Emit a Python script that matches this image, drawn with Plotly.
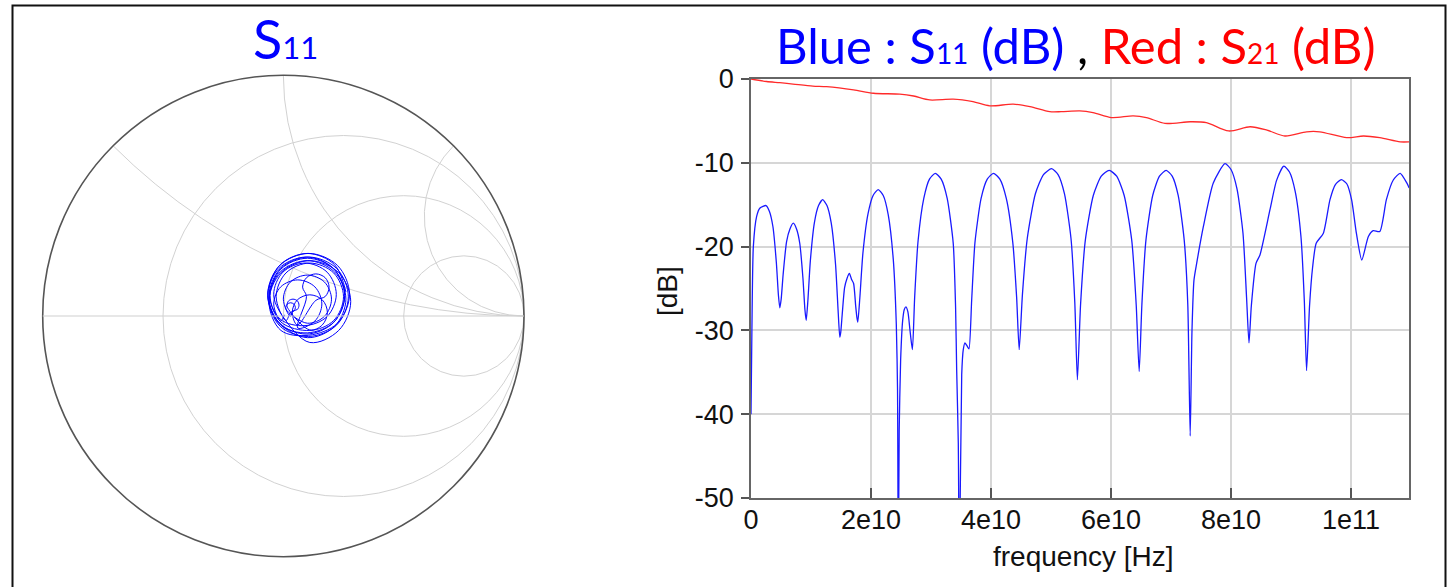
import numpy as np
import plotly.graph_objects as go

W, H = 1453, 587

# ---------------- data ----------------
# S11 magnitude (dB) vs frequency (GHz)
s11_freq_ghz = [0, 0.15, 0.39, 0.94, 1.5, 2.5,
                3.075, 3.65, 4.225, 4.57, 4.8,
                5.025, 5.36, 5.93, 6.49, 7.05,
                7.59, 8.125, 8.66, 8.985, 9.2,
                9.475, 9.89, 10.575, 11.26, 11.95,
                12.66, 13.375, 14.09, 14.515, 14.8,
                14.96, 15.2, 15.6, 16.0, 16.4,
                16.75, 17.1, 17.45, 17.66, 17.8,
                18.14, 18.65, 19.5, 20.35, 21.2,
                22.04, 22.875, 23.71, 24.215, 24.42, 24.55,
                24.7, 24.94, 25.28, 25.55, 25.83,
                26.15, 26.5, 26.9,
                27.28, 27.85, 28.8, 29.75, 30.7,
                31.7, 32.7, 33.7, 34.1, 34.28, 34.55, 34.72,
                35.12, 35.38, 35.67, 36.05, 36.33, 36.78,
                37.33, 38.35, 39.38, 40.4,
                41.48, 42.55, 43.63, 44.27, 44.7,
                45.24, 46.05, 47.4, 48.75, 50.1,
                51.18, 52.25, 53.33, 53.97, 54.4,
                54.93, 55.73, 57.05, 58.38, 59.7,
                60.95, 62.2, 63.45, 64.2, 64.7,
                65.15, 65.83, 66.95, 68.08, 69.2,
                70.2, 71.2, 72.2, 72.8, 73.2,
                73.5, 73.83, 74.28, 75.4, 77.05, 79.0,
                80.0, 81.0, 82.0, 82.6, 83.0,
                83.4, 84.17, 84.83, 86.5, 87.6, 88.8,
                89.75, 90.7, 91.65, 92.22, 92.6,
                93.1, 93.6, 94.2, 95.4, 96.5, 97.4, 98.4,
                99.3, 100.1, 100.9, 101.8,
                102.9, 103.7, 104.8, 105.9, 107.05, 108.2, 109.3, 109.7]
s11_db = [-40, -30, -20, -16.4, -15.4, -15.1,
          -15.8, -17.6, -21.9, -25.8, -27.3,
          -26.3, -23.3, -19.4, -17.9, -17.2,
          -17.9, -19.6, -23.8, -27.5, -28.8,
          -26.5, -21.7, -17.1, -15.1, -14.4,
          -15.1, -17.2, -22.1, -27.6, -30.8,
          -30.2, -28.1, -24.9, -23.8, -23.2,
          -23.9, -24.4, -27.1, -28.5, -29.0,
          -26.1, -20.8, -16.1, -13.9, -13.2,
          -13.9, -16.2, -21.5, -29.2, -37.0, -60.0,
          -42.0, -33.5, -28.8, -27.5, -27.2,
          -27.8, -30.0, -32.3,
          -26.0, -19.3, -14.25, -11.95, -11.25,
          -11.95, -14.25, -19.55, -27.25, -34.7, -43.4, -60.0,
          -35.3, -32.3, -31.5, -31.9, -32.2, -26.4,
          -19.5, -14.25, -11.95, -11.25,
          -11.95, -14.25, -19.5, -26.0, -32.3,
          -25.7, -19.0, -13.7, -11.4, -10.7,
          -11.4, -13.7, -19.0, -26.7, -35.9,
          -26.9, -19.2, -13.9, -11.6, -10.9,
          -11.6, -13.9, -19.2, -26.9, -34.9,
          -26.9, -19.2, -13.9, -11.6, -10.9,
          -11.6, -13.9, -19.2, -26.9, -42.6,
          -30.0, -24.0, -22.0, -17.6, -12.4, -10.1,
          -10.8, -13.1, -18.4, -26.1, -31.5,
          -27.0, -22.0, -21.0, -15.6, -12.1, -10.4,
          -11.1, -13.4, -18.7, -26.4, -34.8,
          -27.0, -22.5, -19.6, -18.4, -14.4, -12.6, -12.0,
          -12.5, -14.4, -18.4, -21.6,
          -18.8, -18.1, -18.2, -14.4, -12.05, -11.25, -12.4, -13.0]

# S21 magnitude (dB) vs frequency (GHz)
s21_freq_ghz = [0, 2.6, 4.8, 7.0, 10.3, 12.6, 17.1, 20.4, 24.8, 27.1, 29.8,
                33.7, 37.0, 39.8, 43.7, 46.5, 49.8, 51.7, 54.8, 57.0, 60.1,
                63.7, 65.9, 69.0, 73.2, 75.9, 79.6, 83.2, 86.0, 89.0, 92.6,
                94.8, 99.3, 102.1, 104.8, 108.2, 109.7]
s21_db = [0, -0.3, -0.44, -0.6, -0.84, -0.92, -1.3, -1.7, -1.8, -2.03, -2.5,
          -2.4, -2.7, -3.2, -3.0, -3.3, -3.9, -3.9, -3.8, -4.0, -4.6,
          -4.4, -4.6, -5.3, -5.1, -5.2, -6.2, -5.7, -6.1, -6.8, -6.3,
          -6.3, -7.0, -6.8, -7.0, -7.5, -7.5]

# S11 locus on the Smith chart (reflection coefficient, re / im)
gamma_re = [0.005,
            -0.011, -0.040, -0.011, 0.060, 0.131, 0.160, 0.131, 0.060,
            0.096, 0.080, 0.096, 0.135, 0.174, 0.190, 0.174, 0.135,
            0.058, 0.037, 0.058, 0.110, 0.162, 0.183, 0.162, 0.110,
            0.022, 0.015, 0.022, 0.040, 0.058, 0.065, 0.058, 0.040,
            0.029, 0.000, 0.029, 0.100, 0.171, 0.200, 0.171, 0.100,
            0.016, 0.010, 0.016, 0.030, 0.044, 0.050, 0.044, 0.030,
            0.011, -0.030, 0.011, 0.110, 0.209, 0.250, 0.209, 0.110,
            -0.010, -0.055, -0.010, 0.100, 0.210, 0.255, 0.210, 0.100,
            -0.012, -0.060, -0.012, 0.105, 0.222, 0.270, 0.222, 0.105,
            -0.013, -0.060, -0.013, 0.100, 0.213, 0.260, 0.213, 0.100,
            -0.018, -0.065, -0.018, 0.095, 0.208, 0.255, 0.208, 0.095,
            -0.015, -0.065, -0.015, 0.105, 0.225, 0.275, 0.225, 0.105,
            -0.010, -0.060, -0.010, 0.110, 0.230, 0.280, 0.230, 0.110,
            -0.002, -0.040, -0.002, 0.090, 0.182, 0.220, 0.182, 0.090,
            -0.013, -0.060, -0.013, 0.100, 0.213, 0.260]
gamma_im = [0.005,
            -0.021, 0.050, 0.121, 0.150, 0.121, 0.050, -0.021, -0.050,
            0.081, 0.120, 0.159, 0.175, 0.159, 0.120, 0.081, 0.065,
            -0.037, 0.015, 0.067, 0.088, 0.067, 0.015, -0.037, -0.058,
            0.027, 0.045, 0.063, 0.070, 0.063, 0.045, 0.027, 0.020,
            -0.001, 0.070, 0.141, 0.170, 0.141, 0.070, -0.001, -0.030,
            0.021, 0.035, 0.049, 0.055, 0.049, 0.035, 0.021, 0.015,
            -0.019, 0.080, 0.179, 0.220, 0.179, 0.080, -0.019, -0.060,
            -0.025, 0.085, 0.195, 0.240, 0.195, 0.085, -0.025, -0.070,
            -0.037, 0.080, 0.197, 0.245, 0.197, 0.080, -0.037, -0.085,
            -0.043, 0.070, 0.183, 0.230, 0.183, 0.070, -0.043, -0.090,
            -0.028, 0.085, 0.198, 0.245, 0.198, 0.085, -0.028, -0.075,
            -0.030, 0.090, 0.210, 0.260, 0.210, 0.090, -0.030, -0.080,
            -0.060, 0.060, 0.180, 0.230, 0.180, 0.060, -0.060, -0.110,
            -0.002, 0.090, 0.182, 0.220, 0.182, 0.090, -0.002, -0.040,
            -0.013, 0.100, 0.213, 0.260, 0.213, 0.100]

x_tickvals = [0, 2e10, 4e10, 6e10, 8e10, 1e11]
x_ticktext = ["0", "2e10", "4e10", "6e10", "8e10", "1e11"]
y_tickvals = [0, -10, -20, -30, -40, -50]
y_ticktext = ["0", "-10", "-20", "-30", "-40", "-50"]
smith_r_grid = [1 / 3, 1, 3]
smith_x_grid = [0.4142, 1, 2.4142]

# ---------------- helpers ----------------
def fx(p):
    return p / W


def fy(p):
    return 1 - p / H


s11_freq = np.array(s11_freq_ghz) * 1e9
s21_freq = np.array(s21_freq_ghz) * 1e9
g = np.array(gamma_re) + 1j * np.array(gamma_im)
z = (1 + g) / (1 - g)

SANS = "Liberation Sans, Arial, sans-serif"
XTICKFONT = dict(family=SANS, size=27, color="#111111")
YTICKFONT = dict(family=SANS, size=27, color="#111111")
TITLEFONT = "Lato, Calibri, Noto Sans, sans-serif"

fig = go.Figure()

fig.add_trace(go.Scattersmith(
    real=z.real, imag=z.imag, mode="lines",
    line=dict(color="#0000ff", width=1, shape="spline", smoothing=1),
    showlegend=False, hoverinfo="skip", subplot="smith"))

fig.add_trace(go.Scatter(
    x=s21_freq, y=s21_db, mode="lines",
    line=dict(color="#ff2a2a", width=1.3, shape="spline", smoothing=0.8),
    showlegend=False, xaxis="x", yaxis="y"))

fig.add_trace(go.Scatter(
    x=s11_freq, y=s11_db, mode="lines",
    line=dict(color="#1a1aff", width=1.3, shape="spline", smoothing=0.6),
    showlegend=False, xaxis="x", yaxis="y"))

fig.update_layout(
    width=W, height=H,
    margin=dict(l=0, r=0, t=0, b=0, autoexpand=False),
    paper_bgcolor="white", plot_bgcolor="white",
    showlegend=False,
    smith=dict(
        domain=dict(x=[fx(42.7), fx(524)], y=[fy(557), fy(75)]),
        bgcolor="white",
        realaxis=dict(tickvals=smith_r_grid, showticklabels=False, ticks="",
                      showgrid=True, gridcolor="#d2d2d2", gridwidth=1.2,
                      showline=True, linecolor="#cfcfcf", linewidth=1.2),
        imaginaryaxis=dict(tickvals=smith_x_grid, showticklabels=False, ticks="",
                           showgrid=True, gridcolor="#d2d2d2", gridwidth=1.2,
                           showline=True, linecolor="#555555", linewidth=1.6),
    ),
    xaxis=dict(domain=[fx(751), fx(1409)], range=[0, 1.0967e11], anchor="y",
               automargin=False,
               tickmode="array", tickvals=x_tickvals, ticktext=x_ticktext,
               ticks="inside", ticklen=10, tickwidth=1.5, tickcolor="#555555",
               showgrid=True, gridcolor="#d6d6d6", gridwidth=1.5,
               showline=True, linecolor="#666666", linewidth=1.6, mirror=True,
               zeroline=False, tickfont=XTICKFONT, ticklabelstandoff=-3),
    yaxis=dict(domain=[fy(498), fy(79)], range=[-50, 0], anchor="x",
               automargin=False,
               tickmode="array", tickvals=y_tickvals, ticktext=y_ticktext,
               ticks="outside", ticklen=8, tickwidth=1.5, tickcolor="#555555",
               showgrid=True, gridcolor="#d6d6d6", gridwidth=1.5,
               showline=True, linecolor="#666666", linewidth=1.6, mirror=True,
               zeroline=False, tickfont=YTICKFONT, ticklabelstandoff=2),
    yaxis2=dict(overlaying="y", range=[-50, 0], anchor="x", side="left",
                automargin=False,
                tickmode="array", tickvals=y_tickvals,
                ticks="inside", ticklen=9, tickwidth=1.5, tickcolor="#555555",
                showticklabels=False, showgrid=False, showline=False, zeroline=False),
)

annotations = [
    dict(text="S<span style='font-size:31px'>11</span>", x=fx(285), y=fy(38),
         font=dict(family=TITLEFONT, size=54, color="#0000ff")),
    dict(text="<span style='color:#0000ff'>Blue : S<span style='font-size:28px'>11</span> (dB)</span>"
              "<span style='color:#000000'> , </span>"
              "<span style='color:#ff0000'>Red : S<span style='font-size:28px'>21</span> (dB)</span>",
         x=fx(1076), y=fy(45), font=dict(family=TITLEFONT, size=49, color="#0000ff")),
    dict(text="[dB]", x=fx(667), y=fy(291), textangle=-90,
         font=dict(family=SANS, size=28, color="#111111")),
    dict(text="frequency [Hz]", x=fx(1083), y=fy(556),
         font=dict(family=SANS, size=28, color="#111111")),
]
for a in annotations:
    a.update(xref="paper", yref="paper", showarrow=False, xanchor="center", yanchor="middle")
fig.update_layout(annotations=annotations)

fig.add_shape(type="rect", xref="paper", yref="paper",
              x0=fx(12.5), x1=fx(1445.5), y0=-0.05, y1=fy(5.5),
              line=dict(color="#111111", width=2), fillcolor="rgba(0,0,0,0)", layer="above")

fig.write_html("out.html", config={"displayModeBar": False},
               post_script="document.body.style.margin='0';document.body.style.overflow='hidden';")
